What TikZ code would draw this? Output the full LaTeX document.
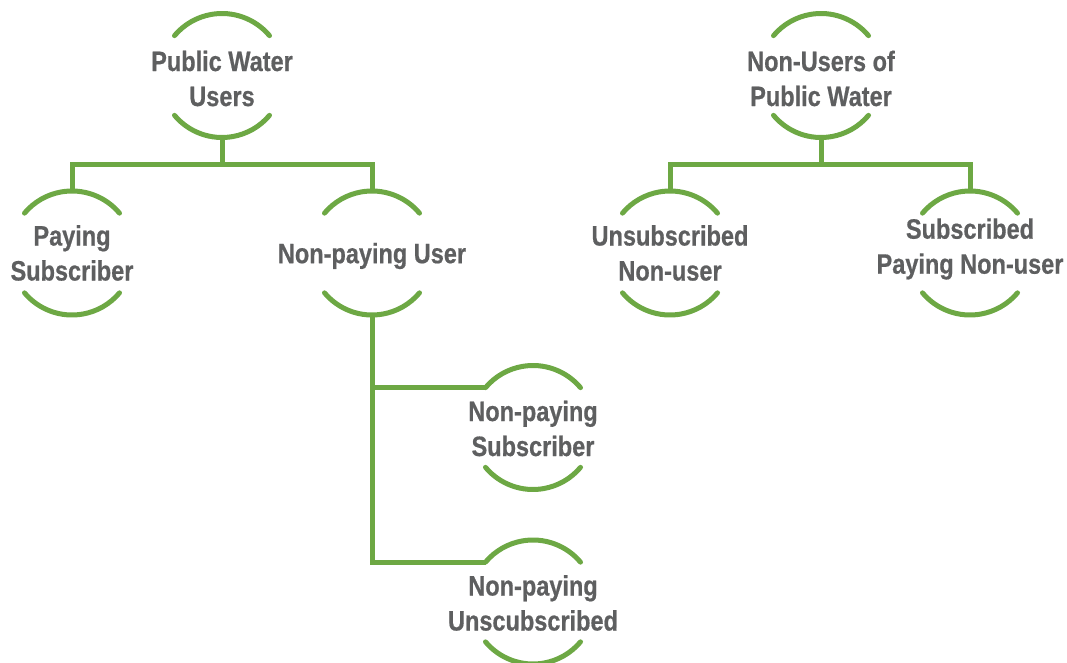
\documentclass[tikz,border=0pt]{standalone}
\usepackage{fontspec}
\newfontfamily\lblfont{Liberation Sans}[FakeStretch=0.84,FakeBold=0.6]
\definecolor{ringgreen}{HTML}{6DA844}
\definecolor{txtgray}{HTML}{5E5F60}
\tikzset{
  ring/.style={draw=ringgreen, line width=5pt, line cap=round},
  link/.style={draw=ringgreen, line width=5pt, line join=miter},
  lbl/.style={text=txtgray, align=center, inner sep=0pt,
    font=\lblfont\bfseries\fontsize{28}{35}\selectfont}
}
\newcommand\R{62}
% #1 name, #2 circle centre, #3 text y-offset, #4 text
\newcommand\ringnode[4]{%
  \coordinate (#1) at (#2);
  \node[lbl] (#1-t) at ([yshift=#3]#1) {#4};
  \draw[ring] ([shift={(40:\R)}]#1) arc[start angle=40,end angle=140,radius=\R];
  \draw[ring] ([shift={(220:\R)}]#1) arc[start angle=220,end angle=320,radius=\R];
  \coordinate (#1-n) at ([shift={(90:\R)}]#1);
  \coordinate (#1-s) at ([shift={(270:\R)}]#1);
  \coordinate (#1-w) at ([shift={(140:\R)}]#1);
}
\begin{document}
\begin{tikzpicture}[x=1pt,y=1pt]
\useasboundingbox (0,0) rectangle (1067,662);
\ringnode{pwu}{222,586.5}{-3pt}{Public Water\\Users}
\ringnode{ps}{72,409}{0pt}{Paying\\Subscriber}
\ringnode{npu}{372,409}{-3pt}{Non-paying User}
\ringnode{nps}{533,234.5}{-1pt}{Non-paying\\Subscriber}
\ringnode{npun}{533,60}{-1pt}{Non-paying\\Unscubscribed}
\ringnode{nupw}{821,586.5}{-3pt}{Non-Users of\\Public Water}
\ringnode{unu}{670,409}{0pt}{Unsubscribed\\Non-user}
\ringnode{spnu}{970,409}{4pt}{Subscribed\\Paying Non-user}
\coordinate (b1) at (222,497);
\coordinate (b2) at (821,497);
\draw[link] (pwu-s) -- (b1);
\draw[link] (ps-n) |- (b1) -| (npu-n);
\draw[link] (nupw-s) -- (b2);
\draw[link] (unu-n) |- (b2) -| (spnu-n);
\draw[link] (npu-s) |- (npun-w);
\draw[link] (npu-s |- nps-w) -- (nps-w);
\end{tikzpicture}
\end{document}
